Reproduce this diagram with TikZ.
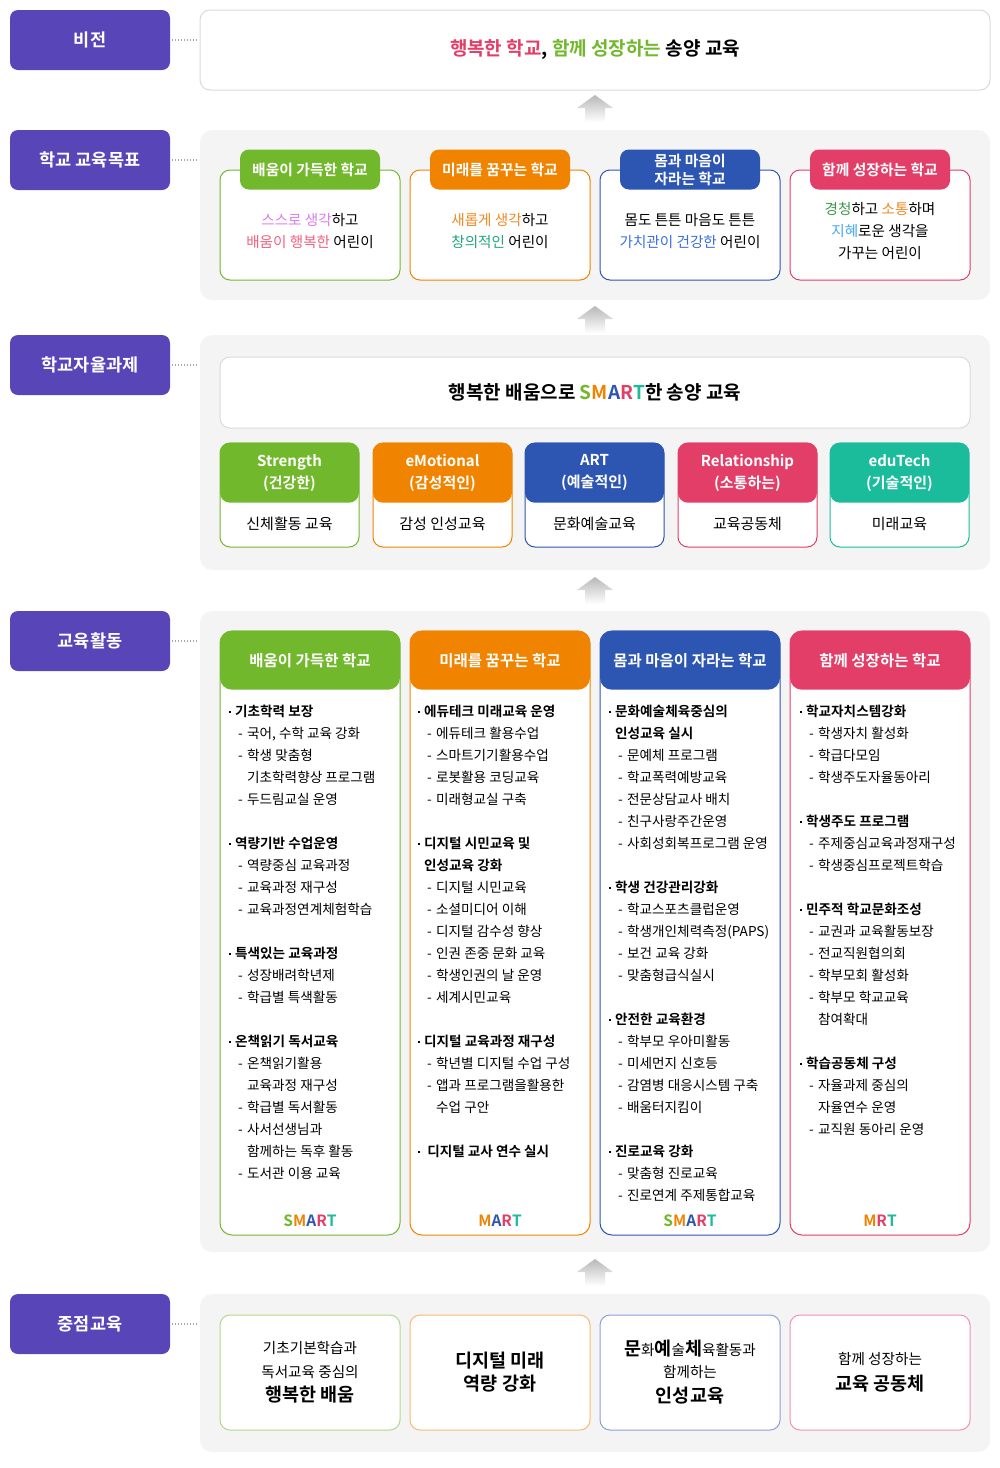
\documentclass[tikz,border=0pt]{standalone}
\usepackage{fontspec}
\setmainfont{Noto Sans CJK KR}[BoldFont={Noto Sans CJK KR Bold}]
\definecolor{lblpurple}{HTML}{5846B8}
\definecolor{sgreen}{HTML}{72B82D}
\definecolor{sorange}{HTML}{F08400}
\definecolor{sblue}{HTML}{2D55B2}
\definecolor{spink}{HTML}{E23E68}
\definecolor{steal}{HTML}{1ABC9C}
\definecolor{bggray}{HTML}{F4F4F4}
\definecolor{linegray}{HTML}{D9D9E2}
\definecolor{arrgray}{HTML}{B8B8B8}
\definecolor{txtviolet}{HTML}{DC7CF0}
\definecolor{txtrose}{HTML}{F2607F}
\definecolor{txtorange}{HTML}{F08A24}
\definecolor{txtmint}{HTML}{22A67A}
\definecolor{txtblue}{HTML}{3B6FE0}
\definecolor{txtgreen}{HTML}{3C9A4A}
\definecolor{txtsky}{HTML}{45A8F0}
% SMART letters
\newcommand\lS{\textcolor{sgreen}{S}}
\newcommand\lM{\textcolor{sorange}{M}}
\newcommand\lA{\textcolor{sblue}{A}}
\newcommand\lR{\textcolor{spink}{R}}
\newcommand\lT{\textcolor{steal}{T}}
% list lines
\newcommand\acthd[1]{\makebox[6pt][l]{\raisebox{4pt}{\rule{2pt}{2pt}}}\textbf{#1}}
\newcommand\acthdcnt[1]{\hspace*{6pt}\textbf{#1}}
\newcommand\actsub[1]{\hspace*{9pt}\makebox[9pt][l]{-}#1}
\newcommand\actcnt[1]{\hspace*{18pt}#1}
\newcommand\bigb[1]{{\bfseries\fontsize{18.5}{24}\selectfont #1}}
\tikzset{
  lbl/.style={fill=lblpurple, rounded corners=8, minimum width=160, minimum height=60,
    text=white, font=\bfseries\fontsize{17.5}{20}\selectfont},
  grayback/.style={fill=bggray, rounded corners=12, minimum width=790},
  whitebox/.style={draw=linegray, line width=1, fill=white, rounded corners=10},
  goaltab/.style={fill=#1, rounded corners=9, minimum width=140, minimum height=40,
    text=white, align=center, font=\bfseries\fontsize{14.8}{18}\selectfont},
  goalcard/.style={draw=#1, line width=1, fill=white, rounded corners=10,
    minimum width=180, minimum height=110},
  goaltxt/.style={align=center, font=\fontsize{14.6}{22}\selectfont},
  smcard/.style={draw=#1, line width=1, fill=white, rounded corners=10,
    minimum width=139, minimum height=104},
  smhead/.style={fill=#1, rounded corners=10, minimum width=139, minimum height=60,
    text=white, align=center, font=\bfseries\fontsize{15}{22}\selectfont},
  smtxt/.style={font=\fontsize{15}{17}\selectfont},
  actcard/.style={draw=#1, line width=1, fill=white, rounded corners=12,
    minimum width=180, minimum height=604},
  acthead/.style={fill=#1, rounded corners=12, minimum width=180, minimum height=59,
    text=white, font=\bfseries\fontsize{15.5}{18}\selectfont},
  actlist/.style={anchor=north west, align=left, font=\fontsize{13.6}{22}\selectfont},
  smartmark/.style={font=\bfseries\fontsize{15.5}{18}\selectfont},
  focuscard/.style={draw=#1!55!white, line width=1, fill=white, rounded corners=10,
    minimum width=180, minimum height=115, align=center, font=\fontsize{14.6}{24}\selectfont},
  dotline/.style={draw=gray!70, line width=1.2, dash pattern=on 1.2pt off 1.8pt,
    shorten <=2, shorten >=2},
  uparrow/.pic={\shade[top color=arrgray, bottom color=white]
    (0,0) -- (18,13) -- (10,13) -- (10,27) -- (-10,27) -- (-10,13) -- (-18,13) -- cycle;}
}
\begin{document}
\begin{tikzpicture}[x=1pt, y=-1pt, every node/.append style={inner sep=0pt}]
\useasboundingbox (0,0) rectangle (1000,1468);
% vision
\node[lbl] (lvis) at (90,40) {비전};
\node[whitebox, minimum width=790, minimum height=80, font=\bfseries\fontsize{19}{22}\selectfont]
  (vis) at (595,50) {\textcolor{spink}{행복한 학교}, \textcolor{sgreen}{함께 성장하는} 송양 교육};
\draw[dotline] (lvis) -- (lvis -| vis.west);
\pic at (595,95) {uparrow};
%
% goals
\node[lbl] (lgoal) at (90,160) {학교 교육목표};
\node[grayback, minimum height=170] (goalbg) at (595,215) {};
\draw[dotline] (lgoal) -- (lgoal -| goalbg.west);
\node[goalcard=sgreen] (gc1) at (310,225) {};
\node[goaltab=sgreen] (gt1) at (gc1.north) {배움이 가득한 학교};
\node[goaltxt] (gx1) at (310,231) {\textcolor{txtviolet}{스스로 생각}하고\\\textcolor{txtrose}{배움이 행복한} 어린이};
\node[goalcard=sorange] (gc2) at (500,225) {};
\node[goaltab=sorange] (gt2) at (gc2.north) {미래를 꿈꾸는 학교};
\node[goaltxt] (gx2) at (500,231) {\textcolor{txtorange}{새롭게 생각}하고\\\textcolor{txtmint}{창의적인} 어린이};
\node[goalcard=sblue] (gc3) at (690,225) {};
\node[goaltab=sblue] (gt3) at (gc3.north) {몸과 마음이\\자라는 학교};
\node[goaltxt] (gx3) at (690,231) {몸도 튼튼 마음도 튼튼\\\textcolor{txtblue}{가치관이 건강한} 어린이};
\node[goalcard=spink] (gc4) at (880,225) {};
\node[goaltab=spink] (gt4) at (gc4.north) {함께 성장하는 학교};
\node[goaltxt] (gx4) at (880,231) {\textcolor{txtgreen}{경청}하고 \textcolor{txtorange}{소통}하며\\\textcolor{txtsky}{지혜}로운 생각을\\가꾸는 어린이};
\pic at (595,306) {uparrow};
%
% autonomous tasks
\node[lbl] (lauto) at (90,365) {학교자율과제};
\node[grayback, minimum height=235] (autobg) at (595,452.5) {};
\draw[dotline] (lauto) -- (lauto -| autobg.west);
\node[whitebox, minimum width=750, minimum height=71, font=\bfseries\fontsize{19}{22}\selectfont]
  (autotop) at (595,392.5) {행복한 배움으로 \lS\lM\lA\lR\lT 한 송양 교육};
\node[smcard=sgreen] (sc1) at (289.5,495) {};
\node[smhead=sgreen, anchor=north] (sh1) at (sc1.north) {Strength\\(건강한)};
\node[smtxt] (st1) at (289.5,524) {신체활동 교육};
\node[smcard=sorange] (sc2) at (442.5,495) {};
\node[smhead=sorange, anchor=north] (sh2) at (sc2.north) {eMotional\\(감성적인)};
\node[smtxt] (st2) at (442.5,524) {감성 인성교육};
\node[smcard=sblue] (sc3) at (594.5,495) {};
\node[smhead=sblue, anchor=north] (sh3) at (sc3.north) {ART\\(예술적인)};
\node[smtxt] (st3) at (594.5,524) {문화예술교육};
\node[smcard=spink] (sc4) at (747.5,495) {};
\node[smhead=spink, anchor=north] (sh4) at (sc4.north) {Relationship\\(소통하는)};
\node[smtxt] (st4) at (747.5,524) {교육공동체};
\node[smcard=steal] (sc5) at (899.5,495) {};
\node[smhead=steal, anchor=north] (sh5) at (sc5.north) {eduTech\\(기술적인)};
\node[smtxt] (st5) at (899.5,524) {미래교육};
\pic at (595,577) {uparrow};
%
% activities
\node[lbl] (lact) at (90,641) {교육활동};
\node[grayback, minimum height=641] (actbg) at (595,931.5) {};
\draw[dotline] (lact) -- (lact -| actbg.west);
\node[actcard=sgreen] (ac1) at (310,933) {};
\node[acthead=sgreen, anchor=north] (ah1) at (ac1.north) {배움이 가득한 학교};
\node[actlist] (al1) at (229,705) {\acthd{기초학력 보장}\\
  \actsub{국어, 수학 교육 강화}\\
  \actsub{학생 맞춤형}\\
  \actcnt{기초학력향상 프로그램}\\
  \actsub{두드림교실 운영}\\[22pt]
  \acthd{역량기반 수업운영}\\
  \actsub{역량중심 교육과정}\\
  \actsub{교육과정 재구성}\\
  \actsub{교육과정연계체험학습}\\[22pt]
  \acthd{특색있는 교육과정}\\
  \actsub{성장배려학년제}\\
  \actsub{학급별 특색활동}\\[22pt]
  \acthd{온책읽기 독서교육}\\
  \actsub{온책읽기활용}\\
  \actcnt{교육과정 재구성}\\
  \actsub{학급별 독서활동}\\
  \actsub{사서선생님과}\\
  \actcnt{함께하는 독후 활동}\\
  \actsub{도서관 이용 교육}};
\node[smartmark] (am1) at (310,1221) {\lS\lM\lA\lR\lT};
\node[actcard=sorange] (ac2) at (500,933) {};
\node[acthead=sorange, anchor=north] (ah2) at (ac2.north) {미래를 꿈꾸는 학교};
\node[actlist] (al2) at (418,705) {\acthd{에듀테크 미래교육 운영}\\
  \actsub{에듀테크 활용수업}\\
  \actsub{스마트기기활용수업}\\
  \actsub{로봇활용 코딩교육}\\
  \actsub{미래형교실 구축}\\[22pt]
  \acthd{디지털 시민교육 및}\\
  \acthdcnt{인성교육 강화}\\
  \actsub{디지털 시민교육}\\
  \actsub{소셜미디어 이해}\\
  \actsub{디지털 감수성 향상}\\
  \actsub{인권 존중 문화 교육}\\
  \actsub{학생인권의 날 운영}\\
  \actsub{세계시민교육}\\[22pt]
  \acthd{디지털 교육과정 재구성}\\
  \actsub{학년별 디지털 수업 구성}\\
  \actsub{앱과 프로그램을활용한}\\
  \actcnt{수업 구안}\\[22pt]
  \acthd{\ 디지털 교사 연수 실시}};
\node[smartmark] (am2) at (500,1221) {\lM\lA\lR\lT};
\node[actcard=sblue] (ac3) at (690,933) {};
\node[acthead=sblue, anchor=north] (ah3) at (ac3.north) {몸과 마음이 자라는 학교};
\node[actlist] (al3) at (609,705) {\acthd{문화예술체육중심의}\\
  \acthdcnt{인성교육 실시}\\
  \actsub{문예체 프로그램}\\
  \actsub{학교폭력예방교육}\\
  \actsub{전문상담교사 배치}\\
  \actsub{친구사랑주간운영}\\
  \actsub{사회성회복프로그램 운영}\\[22pt]
  \acthd{학생 건강관리강화}\\
  \actsub{학교스포츠클럽운영}\\
  \actsub{학생개인체력측정(PAPS)}\\
  \actsub{보건 교육 강화}\\
  \actsub{맞춤형급식실시}\\[22pt]
  \acthd{안전한 교육환경}\\
  \actsub{학부모 우아미활동}\\
  \actsub{미세먼지 신호등}\\
  \actsub{감염병 대응시스템 구축}\\
  \actsub{배움터지킴이}\\[22pt]
  \acthd{진로교육 강화}\\
  \actsub{맞춤형 진로교육}\\
  \actsub{진로연계 주제통합교육}};
\node[smartmark] (am3) at (690,1221) {\lS\lM\lA\lR\lT};
\node[actcard=spink] (ac4) at (880,933) {};
\node[acthead=spink, anchor=north] (ah4) at (ac4.north) {함께 성장하는 학교};
\node[actlist] (al4) at (800,705) {\acthd{학교자치스템강화}\\
  \actsub{학생자치 활성화}\\
  \actsub{학급다모임}\\
  \actsub{학생주도자율동아리}\\[22pt]
  \acthd{학생주도 프로그램}\\
  \actsub{주제중심교육과정재구성}\\
  \actsub{학생중심프로젝트학습}\\[22pt]
  \acthd{민주적 학교문화조성}\\
  \actsub{교권과 교육활동보장}\\
  \actsub{전교직원협의회}\\
  \actsub{학부모회 활성화}\\
  \actsub{학부모 학교교육}\\
  \actcnt{참여확대}\\[22pt]
  \acthd{학습공동체 구성}\\
  \actsub{자율과제 중심의}\\
  \actcnt{자율연수 운영}\\
  \actsub{교직원 동아리 운영}};
\node[smartmark] (am4) at (880,1221) {\lM\lR\lT};
\pic at (595,1259) {uparrow};
%
% focus
\node[lbl] (lfoc) at (90,1324) {중점교육};
\node[grayback, minimum height=158] (focbg) at (595,1373) {};
\draw[dotline] (lfoc) -- (lfoc -| focbg.west);
\node[focuscard=sgreen] (fc1) at (310,1372.5) {기초기본학습과\\독서교육 중심의\\\bigb{행복한 배움}};
\node[focuscard=sorange, font=\bfseries\fontsize{18.5}{23}\selectfont] (fc2) at (500,1372.5) {디지털 미래\\역량 강화};
\node[focuscard=sblue, font=\fontsize{14.6}{22}\selectfont] (fc3) at (690,1372.5) {\bigb{문}화\bigb{예}술\bigb{체}육활동과\\함께하는\\[3pt]\bigb{인성교육}};
\node[focuscard=spink] (fc4) at (880,1372.5) {함께 성장하는\\[2pt]\bigb{교육 공동체}};
\end{tikzpicture}
\end{document}
